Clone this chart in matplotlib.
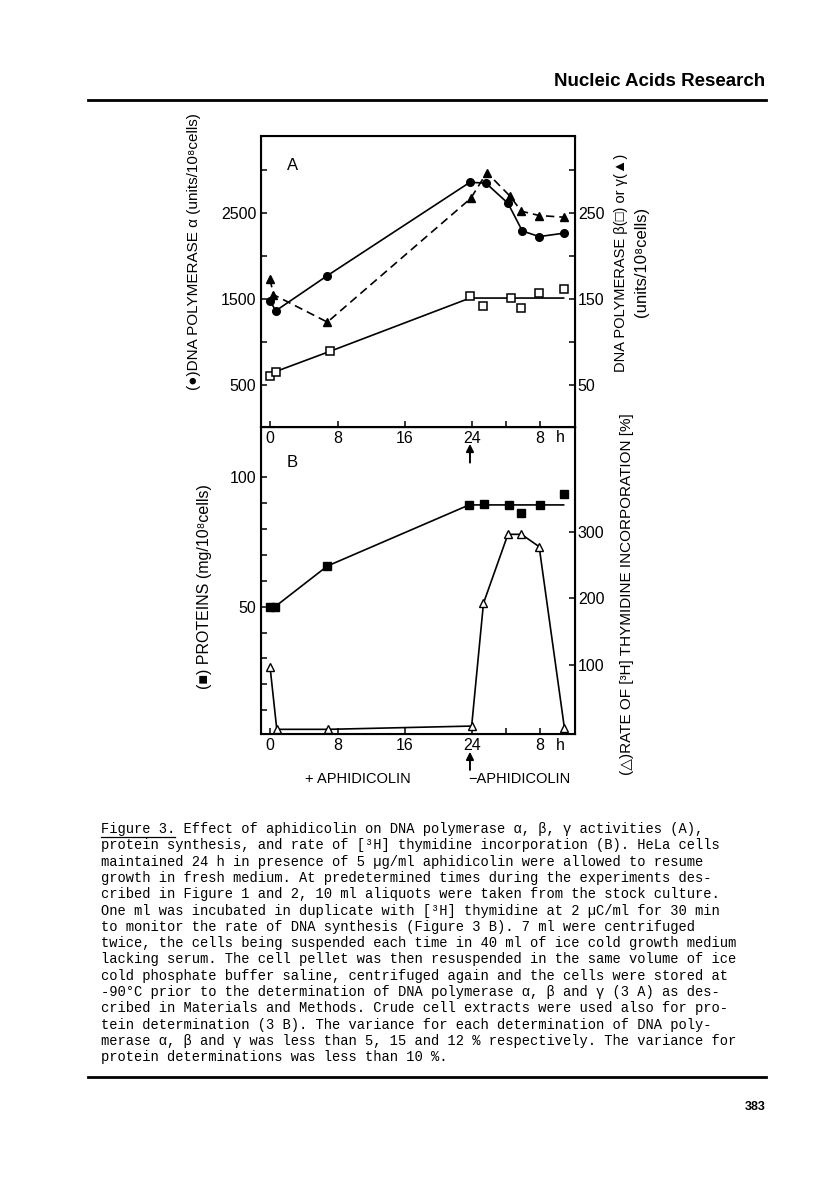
import numpy as np
import matplotlib
matplotlib.use("Agg")
import matplotlib.pyplot as plt
import matplotlib.transforms as mtransforms

# Panel A: DNA polymerase activities (hours after start; second 24 h counted on)
alpha_t = [0, 0.67, 6.8, 23.7, 25.6, 28.2, 29.9, 31.9, 34.8]
alpha_v = [1480, 1361, 1771, 2857, 2846, 2613, 2291, 2225, 2264]

gamma_t = [0, 0.4, 6.8, 23.8, 25.7, 28.4, 29.8, 31.9, 34.9]
gamma_v = [173, 155, 123, 267, 297, 270, 252, 247, 245]

beta_t = [0, 0.67, 7.1, 23.7, 25.3, 28.6, 29.8, 31.9, 34.8]
beta_v = [60, 65.5, 89, 153.5, 142, 151, 140, 157, 162]
beta_line_t = [0, 0.67, 7.1, 23.7, 34.8]
beta_line_v = [60, 65.5, 89, 151, 151]

# Panel B: proteins and thymidine incorporation
prot_t = [0, 0.6, 6.8, 23.6, 25.4, 28.3, 29.8, 32, 34.8]
prot_v = [50, 50, 65.7, 89.3, 89.6, 89.3, 86.3, 89.3, 93.4]
prot_line_t = [0, 0.6, 6.8, 23.6, 34.8]
prot_line_v = [50, 50, 65.7, 89.3, 89.3]

thy_t = [0, 0.8, 6.9, 23.9, 25.3, 28.2, 29.8, 31.9, 34.9]
thy_v = [97.5, 3.5, 3.5, 8.4, 192.6, 296, 296, 277.5, 5]

x_ticks = [0, 8, 16, 24, 28, 32]
x_labels = ["0", "8", "16", "24", "", "8"]

caption = [
    "Figure 3. Effect of aphidicolin on DNA polymerase α, β, γ activities (A),",
    "protein synthesis, and rate of [³H] thymidine incorporation (B). HeLa cells",
    "maintained 24 h in presence of 5 µg/ml aphidicolin were allowed to resume",
    "growth in fresh medium. At predetermined times during the experiments des-",
    "cribed in Figure 1 and 2, 10 ml aliquots were taken from the stock culture.",
    "One ml was incubated in duplicate with [³H] thymidine at 2 µC/ml for 30 min",
    "to monitor the rate of DNA synthesis (Figure 3 B). 7 ml were centrifuged",
    "twice, the cells being suspended each time in 40 ml of ice cold growth medium",
    "lacking serum. The cell pellet was then resuspended in the same volume of ice",
    "cold phosphate buffer saline, centrifuged again and the cells were stored at",
    "-90°C prior to the determination of DNA polymerase α, β and γ (3 A) as des-",
    "cribed in Materials and Methods. Crude cell extracts were used also for pro-",
    "tein determination (3 B). The variance for each determination of DNA poly-",
    "merase α, β and γ was less than 5, 15 and 12 % respectively. The variance for",
    "protein determinations was less than 10 %.",
]

plt.rcParams['font.family'] = ['Liberation Sans', 'DejaVu Sans']
plt.rcParams['font.size'] = 11.5

W, H = 816, 1193
fig = plt.figure(figsize=(W / 100, H / 100), dpi=100)


def fx(px):
    return px / W


def fy(py):
    return 1 - py / H


def style_axis(ax):
    for s in ax.spines.values():
        s.set_linewidth(1.5)
    ax.tick_params(direction='in', length=4, width=1.1, labelsize=11.5)
    ax.tick_params(which='minor', direction='in', length=4, width=1.1)
    ax.set_xticks(x_ticks)
    ax.set_xticklabels(x_labels)
    ax.set_xlim(-1.07, 36.15)


left, right = 261, 575
axA = fig.add_axes([fx(left), fy(427), fx(right - left), (427 - 136) / H])
axB = fig.add_axes([fx(left), fy(734), fx(right - left), (734 - 427) / H])
axB.patch.set_visible(False)
axA.set_zorder(3)

# ---- panel A ----
style_axis(axA)
axA.tick_params(axis='x', pad=3)
axA.set_ylim(10, 3395)
axA.set_yticks([500, 1500, 2500])
axA.set_yticks([1000, 2000, 3000], minor=True)
axA.plot(alpha_t, alpha_v, '-', color='black', lw=1.2, marker='o', ms=5.5,
         mfc='black', mec='black', clip_on=False)

axA2 = axA.twinx()
axA2.set_ylim(1, 339.5)
axA2.set_yticks([50, 150, 250])
axA2.set_yticks([100, 200, 300], minor=True)
axA2.tick_params(direction='in', length=4, width=1.1, labelsize=11.5, pad=2)
axA2.tick_params(which='minor', direction='in', length=4, width=1.1)
axA2.plot(gamma_t, gamma_v, '--', color='black', lw=1.2, dashes=(5, 3))
axA2.plot(gamma_t, gamma_v, '^', color='black', ms=6, clip_on=False)
axA2.plot(beta_line_t, beta_line_v, '-', color='black', lw=1.2)
axA2.plot(beta_t, beta_v, 's', mfc='white', mec='black', mew=1.1, ms=6,
          clip_on=False)
axA.text(0.1, 0.9, "A", transform=axA.transAxes, fontsize=12, ha='center',
         va='center')

# ---- panel B ----
style_axis(axB)
axB.tick_params(axis='x', pad=3)
axB.set_ylim(0.8, 119.4)
axB.set_yticks([50, 100])
axB.set_yticks([10, 20, 30, 40, 60, 70, 80, 90], minor=True)
axB.plot(prot_line_t, prot_line_v, '-', color='black', lw=1.2)
axB.plot(prot_t, prot_v, 's', color='black', ms=6, clip_on=False)

axB2 = axB.twinx()
axB2.patch.set_visible(False)
axB2.set_ylim(-3.5, 457)
axB2.set_yticks([100, 200, 300])
axB2.tick_params(direction='in', length=4, width=1.1, labelsize=11.5, pad=2)
axB2.plot(thy_t, thy_v, '-', color='black', lw=1.2, marker='^', ms=6,
          mfc='white', mec='black', mew=1.0, clip_on=False)
axB.text(0.1, 0.885, "B", transform=axB.transAxes, fontsize=12, ha='center',
         va='center')

# "h" after the last tick label, and the arrows at 24 h
for ax in (axA, axB):
    tr = mtransforms.blended_transform_factory(ax.transData, ax.transAxes)
    ax.text(34.4, -0.012, "h", transform=tr, ha='center', va='top',
            fontsize=11.5, clip_on=False)

arrow = dict(arrowstyle='-|>', color='black', lw=1.4, mutation_scale=11,
             shrinkA=0, shrinkB=0)
axB.annotate("", xy=(23.7, 0.945), xytext=(23.7, 0.884),
             xycoords=('data', 'axes fraction'), arrowprops=arrow)
axB.annotate("", xy=(23.7, -0.058), xytext=(23.7, -0.117),
             xycoords=('data', 'axes fraction'), arrowprops=arrow,
             annotation_clip=False)

fig.text(fx(358), fy(779), "+ APHIDICOLIN", ha='center', va='center',
         fontsize=10.5)
fig.text(fx(519), fy(779), "\u2212APHIDICOLIN", ha='center', va='center',
         fontsize=10.5)

# axis titles
fig.text(fx(194), fy(252), "(●)DNA POLYMERASE α (units/10⁸cells)",
         rotation=90, ha='center', va='center', fontsize=11)
fig.text(fx(621), fy(263), "DNA POLYMERASE β(□) or γ(▲)",
         rotation=90, ha='center', va='center', fontsize=10.5)
fig.text(fx(641), fy(262), "(units/10⁸cells)",
         rotation=90, ha='center', va='center', fontsize=12)
fig.text(fx(205), fy(587), "(■) PROTEINS (mg/10⁸cells)",
         rotation=90, ha='center', va='center', fontsize=11.5)
fig.text(fx(627), fy(594), "(△)RATE OF [³H] THYMIDINE INCORPORATION [%]",
         rotation=90, ha='center', va='center', fontsize=11)

# page header / footer
fig.text(fx(765), fy(82), "Nucleic Acids Research", ha='right', va='center',
         fontsize=13.5, fontweight='bold')
fig.add_artist(plt.Line2D([fx(88), fx(766)], [fy(99.5), fy(99.5)],
                          color='black', lw=2))
fig.add_artist(plt.Line2D([fx(88), fx(766)], [fy(1077), fy(1077)],
                          color='black', lw=2))
fig.text(fx(766), fy(1107), "383", ha='right', va='center', fontsize=9,
         fontweight='bold')

# caption
for i, line in enumerate(caption):
    y = 829 + i * 16.3
    fig.text(fx(101), fy(y), line, ha='left', va='center', fontsize=9.9,
             family=['Liberation Mono', 'DejaVu Sans Mono'])
fig.add_artist(plt.Line2D([fx(101), fx(175)], [fy(837), fy(837)],
                          color='black', lw=0.9))

fig.savefig("out.png", dpi=100)
